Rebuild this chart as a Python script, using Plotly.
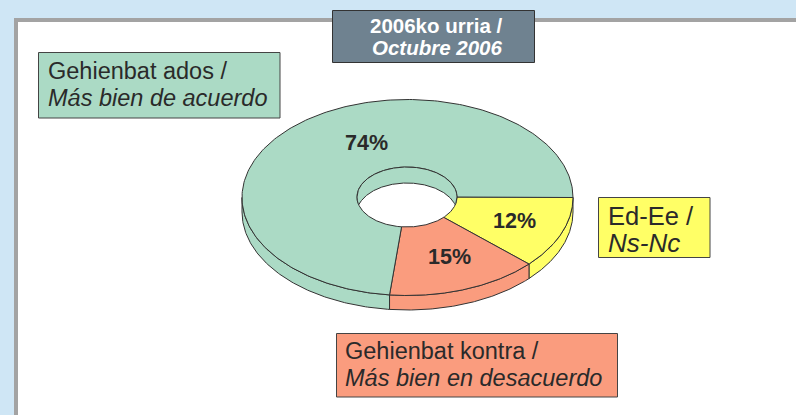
import numpy as np
import plotly.graph_objects as go

# Data
categories = ["Gehienbat ados", "Ed-Ee", "Gehienbat kontra"]
shares = [74, 12, 15]
colors = ["#ABDAC5", "#FFFF66", "#FA9C7E"]
title_lines = ["2006ko urria /", "Octubre 2006"]

# Geometry of the tilted ring (pixel axes)
W, H = 796, 415
CX, CY, RX, RY = 407.5, 197.5, 165.5, 98
HX, HY, HR_X, HR_Y = 407, 197, 50, 30
DEPTH, HOLE_DEPTH = 14.5, 16
LINE = dict(color="#333333", width=1)


def slice_angles():
    # clockwise from 3 o'clock: yellow, salmon, green
    order = [1, 2, 0]
    total = sum(shares)
    start = 0.0
    out = {}
    for i in order:
        end = start + shares[i] / total * 2 * np.pi
        out[i] = (start, end)
        start = end
    return out


def arc(cx, cy, rx, ry, a, b, n=120):
    t = np.linspace(a, b, n)
    return cx + rx * np.cos(t), cy + ry * np.sin(t)


fig = go.Figure()


def poly(x, y, color):
    fig.add_trace(go.Scatter(x=list(x), y=list(y), mode="lines", fill="toself",
                             fillcolor=color, line=LINE, hoverinfo="skip", showlegend=False))


angles = slice_angles()

# outer wall (front half only)
for i, (a, b) in angles.items():
    a2, b2 = max(a, 0), min(b, np.pi)
    if b2 <= a2:
        continue
    x1, y1 = arc(CX, CY, RX, RY, a2, b2)
    poly(np.r_[x1, x1[::-1], x1[0]], np.r_[y1, y1[::-1] + DEPTH, y1[0]], colors[i])

# top faces
for i, (a, b) in angles.items():
    x1, y1 = arc(CX, CY, RX, RY, a, b, 240)
    x2, y2 = arc(HX, HY, HR_X, HR_Y, b, a, 240)
    poly(np.r_[x1, x2, x1[0]], np.r_[y1, y2, y1[0]], colors[i])

# inner wall seen through the hole
xs = np.linspace(-HR_X, HR_X, 241)
root = np.sqrt(np.clip(1 - (xs / HR_X) ** 2, 0, 1))
upper = HY - HR_Y * root
lower = np.minimum(upper + HOLE_DEPTH, HY + HR_Y * root)
poly(np.r_[xs, xs[::-1], xs[0]] + HX, np.r_[upper, lower[::-1], upper[0]], colors[0])

# boxes
def box(x0, y0, x1, y1, fill, color="#444444", width=1):
    return dict(type="rect", x0=x0, y0=y0, x1=x1, y1=y1, fillcolor=fill,
                line=dict(color=color, width=width), layer="above")


shapes = [
    dict(type="rect", x0=16, y0=20, x1=W + 10, y1=H + 10, fillcolor="white",
         line=dict(color="#A3A3A3", width=4), layer="below"),
    box(332.5, 10.5, 534.5, 62.5, "#6F8290", "#333333", 1),
    box(38.5, 52.5, 280, 118, colors[0]),
    box(598.5, 197.5, 710, 257.5, colors[1]),
    box(336.5, 333.5, 617.5, 397, colors[2]),
]

notes = []


def text(x, y, s, size=23.5, color="#2A2A2A", anchor="left", font="Liberation Sans"):
    notes.append(dict(x=x, y=y, text=s, showarrow=False, xanchor=anchor, yanchor="middle",
                      xref="x", yref="y", font=dict(family=font, size=size, color=color)))


text(435.5, 25, f"<b>{title_lines[0]}</b>", 20.5, "white", "center")
text(436.5, 47, f"<b><i>{title_lines[1]}</i></b>", 20.5, "white", "center")
text(46, 71, "Gehienbat ados /")
text(46, 98, "<i>Más bien de acuerdo</i>")
text(606, 216, "Ed-Ee /", 25.5)
text(606, 243, "<i>Ns-Nc</i>", 26)
text(343, 351, "Gehienbat kontra /")
text(343, 378, "<i>Más bien en desacuerdo</i>")
text(366, 143, f"<b>{shares[0]}%</b>", 21.5, anchor="center")
text(514, 221, f"<b>{shares[1]}%</b>", 21.5, anchor="center")
text(449, 257, f"<b>{shares[2]}%</b>", 21.5, anchor="center")

fig.update_layout(
    width=W, height=H, margin=dict(l=0, r=0, t=0, b=0),
    paper_bgcolor="#CFE6F5", plot_bgcolor="rgba(0,0,0,0)",
    xaxis=dict(range=[0, W], visible=False, fixedrange=True),
    yaxis=dict(range=[H, 0], visible=False, fixedrange=True),
    shapes=shapes, annotations=notes, showlegend=False,
)
fig.write_html("out.html", config={"displayModeBar": False},
               post_script="document.body.style.margin='0';")
